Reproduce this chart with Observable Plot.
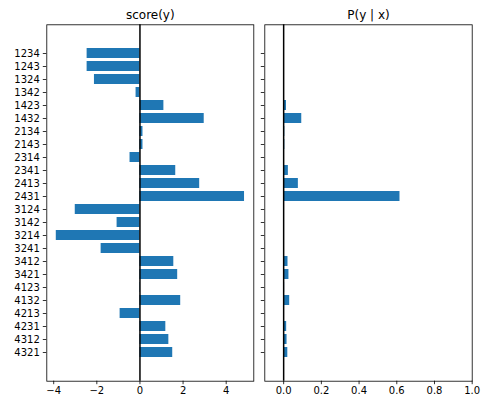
<!DOCTYPE html>
<html>
<head>
<meta charset="utf-8">
<script src="https://cdn.jsdelivr.net/npm/d3@7"></script>
<script src="https://cdn.jsdelivr.net/npm/@observablehq/plot@0.6"></script>
<style>
  html, body { margin: 0; padding: 0; background: #fff; }
  #wrap { display: flex; width: 481px; height: 397px; font-family: "DejaVu Sans", sans-serif; }
  #wrap svg { display: block; }
</style>
</head>
<body>
<div id="wrap"></div>
<script>
const categories = ["1234","1243","1324","1342","1423","1432","2134","2143","2314","2341","2413","2431",
                    "3124","3142","3214","3241","3412","3421","4123","4132","4213","4231","4312","4321"];
const scores = [-2.45,-2.45,-2.11,-0.18,1.11,2.98,0.14,0.14,-0.46,1.66,2.77,4.85,
                -3.0,-1.06,-3.88,-1.8,1.57,1.75,-0.02,1.89,-0.92,1.2,1.34,1.52];
const probs = [0.0004,0.0004,0.0006,0.004,0.015,0.096,0.006,0.006,0.003,0.025,0.078,0.617,
               0.0002,0.0017,0.0001,0.0008,0.023,0.028,0.005,0.032,0.002,0.016,0.018,0.022];
const titles = ["score(y)", "P(y | x)"];
const scoreTicks = [-4, -2, 0, 2, 4];
const probTicks = [0, 0.2, 0.4, 0.6, 0.8, 1.0];

const scoreData = categories.map((k, i) => ({k, v: scores[i]}));
const probData = categories.map((k, i) => ({k, v: probs[i]}));

const H = 397, MT = 24.3, MB = 16.3;
const common = {
  height: H, marginTop: MT, marginBottom: MB,
  style: {fontFamily: "DejaVu Sans, sans-serif", fontSize: "10px", color: "#000", background: "#fff"},
  y: {type: "band", domain: categories, paddingInner: 0.2, paddingOuter: 1.205, align: 0.5}
};
const minus = d => d < 0 ? "\u2212" + Math.abs(d) : String(d);

const p1 = Plot.plot({
  ...common,
  width: 258, marginLeft: 46.3, marginRight: 4.7,
  x: {domain: [-4.32, 5.28]},
  marks: [
    Plot.barX(scoreData, {x1: 0, x2: "v", y: "k", fill: "#1f77b4"}),
    Plot.ruleX([0], {stroke: "#000", strokeWidth: 1.5}),
    Plot.frame({stroke: "#000", strokeWidth: 0.8}),
    Plot.axisY({tickSize: 3.5, tickPadding: 3.5, fontSize: 10, label: null, stroke: "#000", strokeWidth: 0.8}),
    Plot.axisX({ticks: scoreTicks, tickFormat: minus, tickSize: 3.5, tickPadding: 2.5, fontSize: 10, label: null, stroke: "#000", strokeWidth: 0.8}),
    Plot.text([titles[0]], {frameAnchor: "top", lineAnchor: "bottom", dy: -6, fontSize: 12, fill: "#000"})
  ]
});

const p2 = Plot.plot({
  ...common,
  width: 223, marginLeft: 6.3, marginRight: 9.3,
  x: {domain: [-0.1, 1.0]},
  marks: [
    Plot.barX(probData, {x1: 0, x2: "v", y: "k", fill: "#1f77b4"}),
    Plot.ruleX([0], {stroke: "#000", strokeWidth: 1.5}),
    Plot.frame({stroke: "#000", strokeWidth: 0.8}),
    Plot.axisY({tickSize: 3.5, tickFormat: () => "", label: null, stroke: "#000", strokeWidth: 0.8}),
    Plot.axisX({ticks: probTicks, tickFormat: d3.format(".1f"), tickSize: 3.5, tickPadding: 2.5, fontSize: 10, label: null, stroke: "#000", strokeWidth: 0.8}),
    Plot.text([titles[1]], {frameAnchor: "top", lineAnchor: "bottom", dy: -6, fontSize: 12, fill: "#000"})
  ]
});

const wrap = document.getElementById("wrap");
wrap.appendChild(p1);
wrap.appendChild(p2);
</script>
</body>
</html>
